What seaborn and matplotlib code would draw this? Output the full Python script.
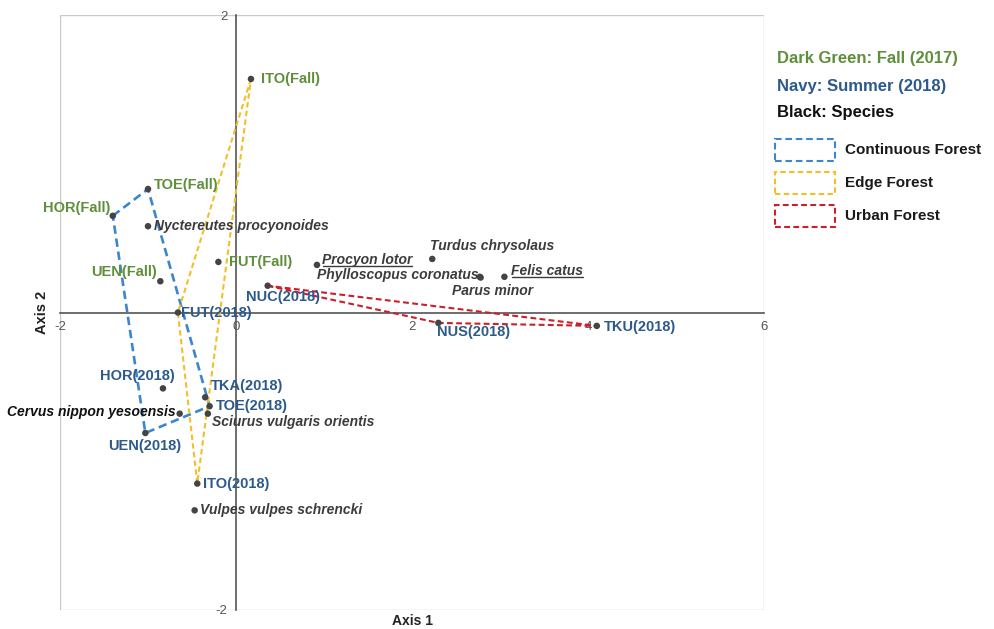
import numpy as np
import pandas as pd
import matplotlib
matplotlib.use("Agg")
import matplotlib.pyplot as plt
from matplotlib.patches import Rectangle
from matplotlib.lines import Line2D
import seaborn as sns

# ---- ordination scores -------------------------------------------------
site_labels = ["ITO(Fall)", "TOE(Fall)", "HOR(Fall)", "UEN(Fall)", "FUT(Fall)",
               "NUC(2018)", "FUT(2018)", "NUS(2018)", "TKU(2018)", "HOR(2018)",
               "TKA(2018)", "TOE(2018)", "UEN(2018)", "ITO(2018)"]
site_x = [0.17, -1.00, -1.40, -0.86, -0.20,
          0.36, -0.66, 2.30, 4.10, -0.83,
          -0.35, -0.30, -1.03, -0.44]
site_y = [1.57, 0.83, 0.65, 0.21, 0.34,
          0.18, 0.00, -0.07, -0.09, -0.51,
          -0.57, -0.63, -0.81, -1.15]
site_season = ["Fall"] * 5 + ["Summer"] * 9

species_names = ["Nyctereutes procyonoides", "Procyon lotor", "Phylloscopus coronatus",
                 "Turdus chrysolaus", "Felis catus", "Parus minor",
                 "Cervus nippon yesoensis", "Sciurus vulgaris orientis",
                 "Vulpes vulpes schrencki"]
species_x = [-1.00, 0.92, 2.77, 2.23, 3.05, 2.78, -0.64, -0.32, -0.47]
species_y = [0.58, 0.32, 0.24, 0.36, 0.24, 0.235, -0.68, -0.68, -1.33]

# forest types, outlined through their sites
forest_types = ["Continuous Forest", "Edge Forest", "Urban Forest"]
forest_sites = {
    "Continuous Forest": ["HOR(Fall)", "TOE(Fall)", "TOE(2018)", "UEN(2018)"],
    "Edge Forest": ["ITO(Fall)", "FUT(2018)", "ITO(2018)"],
    "Urban Forest": ["NUC(2018)", "NUS(2018)", "TKU(2018)"],
}

# ---- styling -----------------------------------------------------------
GREEN = "#5f8f3a"
NAVY = "#2c5a8c"
SPEC = "#3c3c3c"
forest_colors = {"Continuous Forest": "#3b86cc",
                 "Edge Forest": "#f2bf2a",
                 "Urban Forest": "#cc1f2a"}
forest_lw = {"Continuous Forest": 1.9, "Edge Forest": 1.5, "Urban Forest": 1.5}
forest_dash = {"Continuous Forest": (0, (3.2, 1.8)),
               "Edge Forest": (0, (2.6, 1.6)),
               "Urban Forest": (0, (2.8, 1.6))}

# label offsets in pixels: (dx, dy, ha)
site_offsets = {
    "ITO(Fall)": (10, 0, "left"), "TOE(Fall)": (6, 4, "left"),
    "HOR(Fall)": (-2, 8, "right"), "UEN(Fall)": (-3, 9, "right"),
    "FUT(Fall)": (11, 0, "left"), "NUC(2018)": (-22, -11, "left"),
    "FUT(2018)": (3, 0, "left"), "NUS(2018)": (-1, -9, "left"),
    "TKU(2018)": (7, -1, "left"), "HOR(2018)": (-26, 12, "center"),
    "TKA(2018)": (6, 11, "left"), "TOE(2018)": (6, 0, "left"),
    "UEN(2018)": (-1, -13, "center"), "ITO(2018)": (6, 0, "left"),
}
species_offsets = {
    "Nyctereutes procyonoides": (6, 0, "left"), "Procyon lotor": (5, 5, "left"),
    "Phylloscopus coronatus": (-1, 2, "right"), "Turdus chrysolaus": (-2, 13, "left"),
    "Felis catus": (7, 6, "left"), "Parus minor": (12, -13, "center"),
    "Cervus nippon yesoensis": (-4, 2, "right"),
    "Sciurus vulgaris orientis": (4, -8, "left"),
    "Vulpes vulpes schrencki": (5, 0, "left"),
}
underlined = ["Procyon lotor", "Felis catus"]

sns.set_theme(style="white")
plt.rcParams["font.family"] = ["Liberation Sans", "DejaVu Sans"]

sites = pd.DataFrame({"label": site_labels, "x": site_x, "y": site_y,
                      "season": site_season})
species = pd.DataFrame({"label": species_names, "x": species_x, "y": species_y})

fig = plt.figure(figsize=(9.95, 6.29), dpi=100)
ax = fig.add_axes([60 / 995, 1 - 610 / 629, 704 / 995, 595 / 629])
ax.set_xlim(-2, 6)
ax.set_ylim(-2, 2)

# axes crossing at the origin, light frame around the plot area
for side in ["top", "right"]:
    ax.spines[side].set_visible(False)
ax.spines["left"].set_position(("data", 0))
ax.spines["bottom"].set_position(("data", 0))
for side in ["left", "bottom"]:
    ax.spines[side].set_color("#555555")
    ax.spines[side].set_linewidth(1.2)
    ax.spines[side].set_zorder(1)
ax.add_patch(Rectangle((0, 0), 1, 1, transform=ax.transAxes, fill=False,
                       edgecolor="#c9c9c9", linewidth=1.0, zorder=0))

xt = np.arange(-2, 6.01, 0.5)
yt = np.arange(-2, 2.01, 0.5)
ax.set_xticks(xt)
ax.set_xticklabels([f"{v:g}" if v in (-2, 0, 2, 4, 6) else "" for v in xt])
ax.set_yticks(yt)
ax.set_yticklabels([f"{v:g}" if v in (-2, 2) else "" for v in yt])
ax.tick_params(axis="both", direction="in", length=4, width=1, color="#555555",
               labelsize=9.5, labelcolor="#555555")
ax.tick_params(axis="x", pad=6)
ax.tick_params(axis="y", pad=6)

# forest outlines
for ft in forest_types:
    pts = sites.set_index("label").loc[forest_sites[ft]]
    xs = list(pts["x"]) + [pts["x"].iloc[0]]
    ys = list(pts["y"]) + [pts["y"].iloc[0]]
    ax.plot(xs, ys, linestyle=forest_dash[ft], color=forest_colors[ft],
            linewidth=forest_lw[ft], zorder=2)

# points
sns.scatterplot(data=sites, x="x", y="y", color="#444444", s=22,
                edgecolor="none", ax=ax, zorder=3, legend=False)
sns.scatterplot(data=species, x="x", y="y", color="#444444", s=22,
                edgecolor="none", ax=ax, zorder=3, legend=False)
ax.set_xlabel("")
ax.set_ylabel("")

# site labels
for _, r in sites.iterrows():
    dx, dy, ha = site_offsets[r["label"]]
    ax.annotate(r["label"], (r["x"], r["y"]), xytext=(dx, dy),
                textcoords="offset pixels", ha=ha, va="center",
                fontsize=10.5, fontweight="bold",
                color=GREEN if r["season"] == "Fall" else NAVY, zorder=4)

# species labels
species_texts = {}
for _, r in species.iterrows():
    dx, dy, ha = species_offsets[r["label"]]
    dark = r["label"] == "Cervus nippon yesoensis"
    t = ax.annotate(r["label"], (r["x"], r["y"]), xytext=(dx, dy),
                    textcoords="offset pixels", ha=ha, va="center",
                    fontsize=10, fontweight="bold", fontstyle="italic",
                    color="#111111" if dark else SPEC, zorder=4)
    species_texts[r["label"]] = t

# axis titles
ax.text(0.5, -0.006, "Axis 1", transform=ax.transAxes, ha="center", va="top",
        fontsize=10, fontweight="bold", color="#222222")
ax.text(-0.026, 0.5, "Axis 2", transform=ax.transAxes, ha="center",
        va="center", rotation=90, fontsize=10.5, fontweight="bold",
        color="#222222")

# key on the right
W, H = 995, 629
fig.text(777 / W, 1 - 58 / H, "Dark Green: Fall (2017)", color=GREEN,
         fontsize=12, fontweight="bold", va="center", ha="left")
fig.text(777 / W, 1 - 86 / H, "Navy: Summer (2018)", color=NAVY,
         fontsize=12, fontweight="bold", va="center", ha="left")
fig.text(777 / W, 1 - 113 / H, "Black: Species", color="#111111",
         fontsize=12, fontweight="bold", va="center", ha="left")
for i, ft in enumerate(forest_types):
    yc = 150 + 33 * i
    fig.patches.append(Rectangle((775 / W, 1 - (yc + 11) / H), 60 / W, 22 / H,
                                 transform=fig.transFigure, fill=False,
                                 edgecolor=forest_colors[ft], linewidth=1.5,
                                 linestyle=forest_dash[ft]))
    fig.text(845 / W, 1 - yc / H, ft, color="#1a1a1a", fontsize=11,
             fontweight="bold", va="center", ha="left")

# underline selected species names
fig.canvas.draw()
renderer = fig.canvas.get_renderer()
inv = fig.transFigure.inverted()
for name in underlined:
    bb = species_texts[name].get_window_extent(renderer)
    (x0, y0), (x1, _) = inv.transform([(bb.x0 + 1, bb.y0 + 1), (bb.x1, bb.y0)])
    fig.lines.append(Line2D([x0, x1], [y0, y0], transform=fig.transFigure,
                            color=SPEC, linewidth=1.0))

fig.savefig("out.png", dpi=100, facecolor="white")
